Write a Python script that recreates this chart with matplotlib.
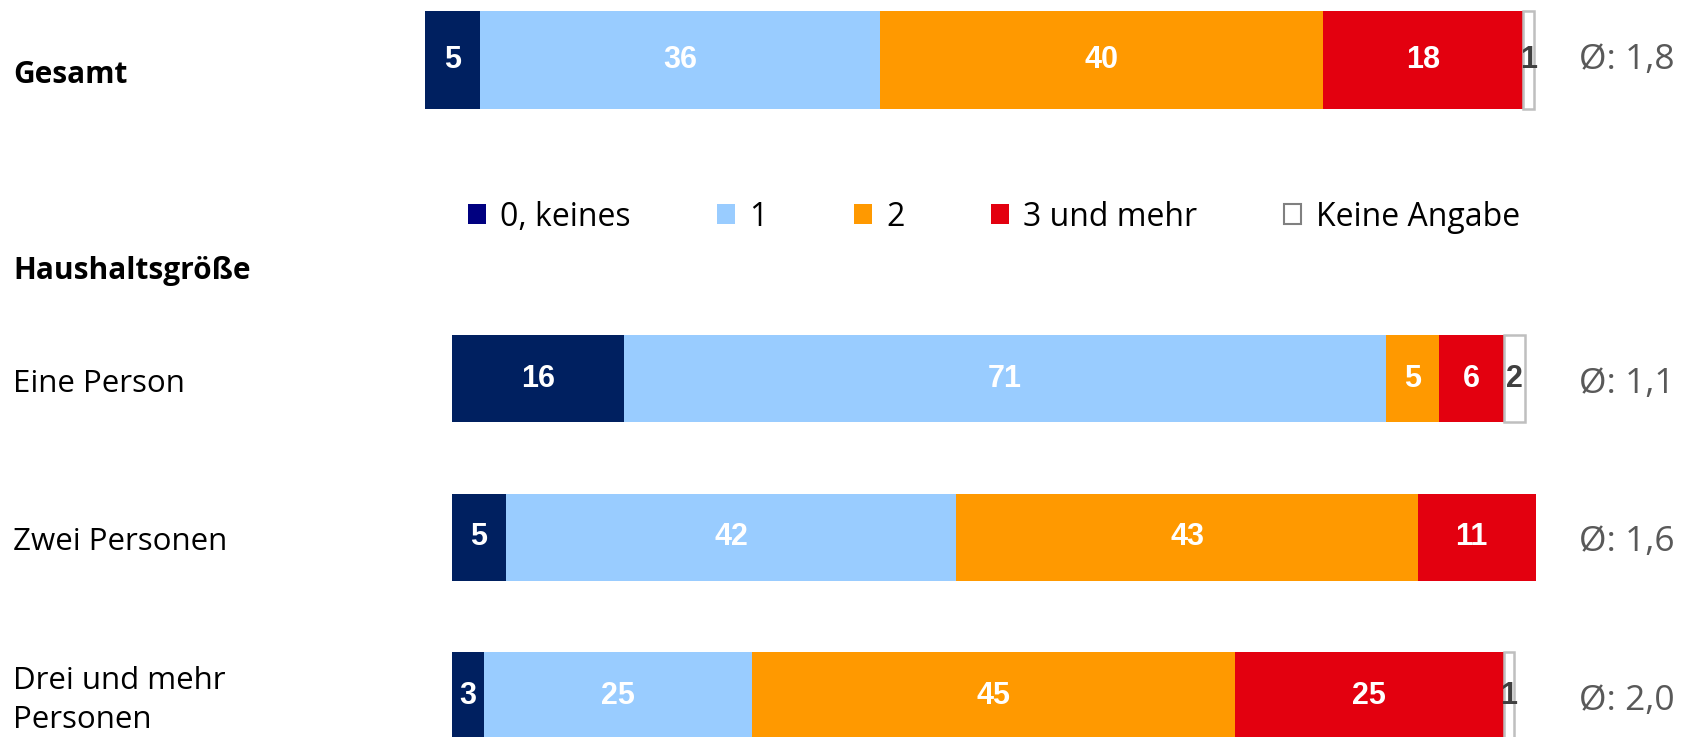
import matplotlib
matplotlib.use('Agg')
import matplotlib.pyplot as plt
import matplotlib.transforms as mtransforms
from matplotlib.patches import Patch
import numpy as np

# data
series = ['0, keines', '1', '2', '3 und mehr', 'Keine Angabe']
gesamt = [5, 36, 40, 18, 1]
gesamt_avg = '1,8'

groups = ['Eine Person', 'Zwei Personen', 'Drei und mehr\nPersonen']
keines = [16, 5, 3]
eins = [71, 42, 25]
zwei = [5, 43, 45]
drei_plus = [6, 11, 25]
keine_angabe = [2, 0, 1]
group_avg = ['1,1', '1,6', '2,0']

bar_colors = ['#002060', '#99CCFF', '#FF9900', '#E3000F', 'white']
legend_colors = ['#000080', '#99CCFF', '#FF9900', '#E3000F', 'white']
value_colors = ['white', 'white', 'white', 'white', '#404040']

W, H = 1690, 737
fig = plt.figure(figsize=(W / 100, H / 100), dpi=100)

def fx(px):
    return px / W

def fy(px):
    return 1 - px / H

TXT = 'Open Sans'
NUM = 'Liberation Sans'


def stacked(ax, rows, ypos, height):
    left = np.zeros(len(ypos))
    for vals, col, tcol in zip(rows, bar_colors, value_colors):
        vals = np.array(vals, float)
        if col == 'white':
            bars = ax.barh(ypos, vals, height, left=left, color=col,
                           edgecolor='#BFBFBF', linewidth=1.8, clip_on=False)
        else:
            bars = ax.barh(ypos, vals, height, left=left, color=col,
                           linewidth=0, clip_on=False)
        for p, v in zip(bars, vals):
            if v == 0:
                p.set_visible(False)
        ax.bar_label(bars, labels=[f'{v:.0f}' if v else '' for v in vals],
                     label_type='center', color=tcol, fontsize=22,
                     fontweight='bold', family=NUM)
        left += vals
    ax.set_xlim(0, 100)
    ax.axis('off')


# Gesamt bar
ax_top = fig.add_axes([fx(425), fy(109), 1109 / W, 98 / H])
stacked(ax_top, [[v] for v in gesamt], [0], 1.0)
ax_top.set_ylim(-0.5, 0.5)
tr = mtransforms.blended_transform_factory(fig.transFigure, ax_top.transData)
ax_top.text(fx(1579), 0, f'Ø: {gesamt_avg}', transform=tr, va='center',
            ha='left', fontsize=25.5, color='#595959', family=TXT)

# Haushaltsgröße bars
ax_low = fig.add_axes([fx(452), fy(775), 1073 / W, (775 - 299.5) / H])
ypos = np.arange(len(groups))
stacked(ax_low, [keines, eins, zwei, drei_plus, keine_angabe], ypos, 0.552)
ax_low.set_ylim(2.5, -0.5)
tr = mtransforms.blended_transform_factory(fig.transFigure, ax_low.transData)
for i, (g, a) in enumerate(zip(groups, group_avg)):
    ax_low.text(fx(13), i + 0.03, g, transform=tr, va='center', ha='left',
                fontsize=22.5, family=TXT, linespacing=1.4)
    ax_low.text(fx(1579), i + 0.03, f'Ø: {a}', transform=tr, va='center',
                ha='left', fontsize=25.5, color='#595959', family=TXT)

# headers
fig.text(fx(13), fy(83), 'Gesamt', fontsize=21.5, fontweight='bold',
         family=TXT, va='baseline')
fig.text(fx(13), fy(279), 'Haushaltsgröße', fontsize=21.5, fontweight='bold',
         family=TXT, va='baseline')

# legend
handles = [Patch(facecolor=c, edgecolor='#808080' if c == 'white' else c,
                 linewidth=1.5 if c == 'white' else 0)
           for c in legend_colors]
fig.legend(handles, series, loc='center left',
           bbox_to_anchor=(fx(468), fy(217)), ncol=5, frameon=False,
           borderpad=0, borderaxespad=0, handlelength=0.56,
           handleheight=0.56, handletextpad=0.45, columnspacing=2.7,
           prop=dict(family=TXT, size=23))

fig.savefig('out.png', dpi=100)
